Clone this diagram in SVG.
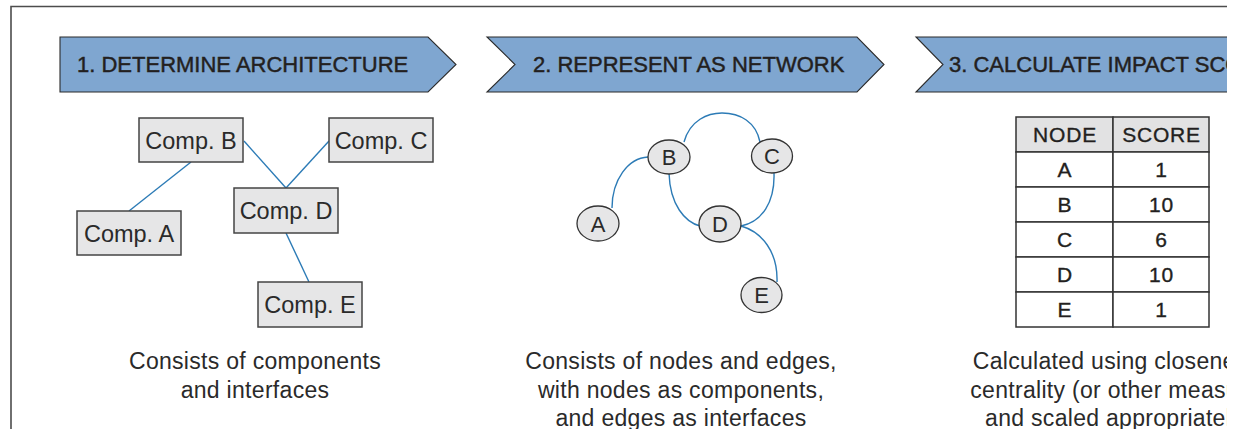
<svg xmlns="http://www.w3.org/2000/svg" width="1245" height="429" viewBox="0 0 1245 429">
<style>
.frame{fill:none;stroke:#4d4d4d;stroke-width:1.6}
.banner{fill:#7fa6d0;stroke:#2b2b2b;stroke-width:1.1}
.btxt{font-family:"Liberation Sans",Arial,sans-serif;font-size:22px;fill:#231f20;stroke:#231f20;stroke-width:0.45}
.comp{fill:#e6e6e7;stroke:#444;stroke-width:1.5}
.ctxt{font-family:"Liberation Sans",Arial,sans-serif;font-size:23.5px;fill:#2a2a2a;text-anchor:middle}
.edge{fill:none;stroke:#2c7bb6;stroke-width:1.4}
.node{fill:#e6e6e7;stroke:#333;stroke-width:1.3}
.ntxt{font-family:"Liberation Sans",Arial,sans-serif;font-size:22px;fill:#2a2a2a;text-anchor:middle}
.cell{fill:#fff;stroke:#333;stroke-width:1.5}
.head{fill:#e2e2e3;stroke:#333;stroke-width:1.5}
.ttxt{font-family:"Liberation Sans",Arial,sans-serif;font-size:21px;letter-spacing:0.8px;fill:#231f20;stroke:#231f20;stroke-width:0.35;text-anchor:middle}
.cap{font-family:"Liberation Sans",Arial,sans-serif;font-size:23px;letter-spacing:0.3px;fill:#2a2a2a;text-anchor:middle}
</style>
<defs>
<clipPath id="clip"><rect x="0" y="0" width="1227" height="429"/></clipPath>
</defs>
<rect x="0" y="0" width="1245" height="429" fill="#fff"/>
<g clip-path="url(#clip)">
<path class="frame" d="M11,429 L11,6.5 L1227,6.5"/>

<g id="banner1">
<polygon class="banner" points="60,37 428,37 456,64.5 428,92 60,92"/>
<text class="btxt" x="77" y="72">1. DETERMINE ARCHITECTURE</text>
</g>
<g id="banner2">
<polygon class="banner" points="487,37 857,37 884,64.5 857,92 487,92 515,64.5"/>
<text class="btxt" x="533" y="72">2. REPRESENT AS NETWORK</text>
</g>
<g id="banner3">
<polygon class="banner" points="916,37 1260,37 1260,92 916,92 943,64.5"/>
<text class="btxt" x="949" y="72">3. CALCULATE IMPACT SCORE</text>
</g>

<g id="connectors">
<line class="edge" x1="191" y1="162" x2="129" y2="211"/>
<line class="edge" x1="244" y1="141" x2="286" y2="188"/>
<line class="edge" x1="329" y1="141" x2="286" y2="188"/>
<line class="edge" x1="286" y1="233" x2="309" y2="282"/>
<path class="edge" d="M612,208 C612,180 628,158 648,157"/>
<path class="edge" d="M684,142 C690,120 708,113 722,113 C740,113 756,122 760,142"/>
<path class="edge" d="M669,173 C670,205 685,222 700,226"/>
<path class="edge" d="M774,173 C775,202 762,222 741,226"/>
<path class="edge" d="M741,226 C762,232 778,252 777,282"/>
</g>

<g id="compA"><rect class="comp" x="77" y="211" width="104" height="44"/><text class="ctxt" x="129" y="241.5">Comp. A</text></g>
<g id="compB"><rect class="comp" x="139" y="118" width="104" height="44"/><text class="ctxt" x="191" y="148.5">Comp. B</text></g>
<g id="compC"><rect class="comp" x="329" y="118" width="104" height="44"/><text class="ctxt" x="381" y="148.5">Comp. C</text></g>
<g id="compD"><rect class="comp" x="234" y="188" width="104" height="45"/><text class="ctxt" x="286" y="219">Comp. D</text></g>
<g id="compE"><rect class="comp" x="258" y="282" width="104" height="45"/><text class="ctxt" x="310" y="313">Comp. E</text></g>

<g id="nodeA"><ellipse class="node" cx="598" cy="223.5" rx="21" ry="17.5"/><text class="ntxt" x="598" y="231.5">A</text></g>
<g id="nodeB"><ellipse class="node" cx="669" cy="157" rx="21" ry="17"/><text class="ntxt" x="669" y="165">B</text></g>
<g id="nodeC"><ellipse class="node" cx="772" cy="156" rx="20.5" ry="17"/><text class="ntxt" x="772" y="164">C</text></g>
<g id="nodeD"><ellipse class="node" cx="720" cy="224" rx="21" ry="18"/><text class="ntxt" x="720" y="232">D</text></g>
<g id="nodeE"><ellipse class="node" cx="761.5" cy="295" rx="20.5" ry="17.5"/><text class="ntxt" x="761.5" y="303">E</text></g>

<g id="table">
<rect class="head" x="1016" y="117" width="97" height="35"/>
<rect class="head" x="1113" y="117" width="96" height="35"/>
<rect class="cell" x="1016" y="152" width="97" height="35"/><rect class="cell" x="1113" y="152" width="96" height="35"/>
<rect class="cell" x="1016" y="187" width="97" height="35"/><rect class="cell" x="1113" y="187" width="96" height="35"/>
<rect class="cell" x="1016" y="222" width="97" height="35"/><rect class="cell" x="1113" y="222" width="96" height="35"/>
<rect class="cell" x="1016" y="257" width="97" height="35"/><rect class="cell" x="1113" y="257" width="96" height="35"/>
<rect class="cell" x="1016" y="292" width="97" height="35"/><rect class="cell" x="1113" y="292" width="96" height="35"/>
<text class="ttxt" x="1065" y="142">NODE</text><text class="ttxt" x="1161.5" y="142">SCORE</text>
<text class="ttxt" x="1065" y="177">A</text><text class="ttxt" x="1161.5" y="177">1</text>
<text class="ttxt" x="1065" y="212">B</text><text class="ttxt" x="1161.5" y="212">10</text>
<text class="ttxt" x="1065" y="247">C</text><text class="ttxt" x="1161.5" y="247">6</text>
<text class="ttxt" x="1065" y="282">D</text><text class="ttxt" x="1161.5" y="282">10</text>
<text class="ttxt" x="1065" y="317">E</text><text class="ttxt" x="1161.5" y="317">1</text>
</g>

<g id="captions">
<text class="cap" x="255" y="369">Consists of components</text>
<text class="cap" x="255" y="398">and interfaces</text>
<text class="cap" x="681" y="369">Consists of nodes and edges,</text>
<text class="cap" x="681" y="398">with nodes as components,</text>
<text class="cap" x="681" y="426">and edges as interfaces</text>
<text class="cap" x="1116" y="369">Calculated using closeness</text>
<text class="cap" x="1125" y="398">centrality (or other measures)</text>
<text class="cap" x="1114" y="426">and scaled appropriately</text>
</g>
</g>
</svg>
